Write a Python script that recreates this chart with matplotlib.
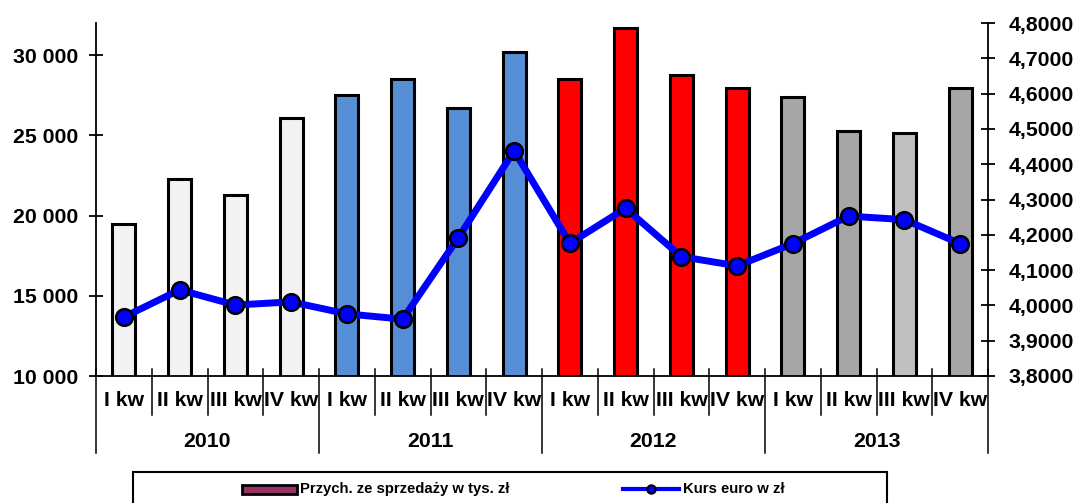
import numpy as np
import matplotlib
matplotlib.use('Agg')
import matplotlib.pyplot as plt
from matplotlib.patches import Rectangle
from matplotlib.lines import Line2D
from matplotlib.ticker import FuncFormatter

plt.rcParams['font.family'] = ['Liberation Sans', 'DejaVu Sans']
plt.rcParams['font.weight'] = 'bold'

years = ['2010', '2011', '2012', '2013']
quarters = ['I kw', 'II kw', 'III kw', 'IV kw']
sales = [19500, 22300, 21300, 26100,
         27500, 28500, 26700, 30200,
         28500, 31700, 28750, 27950,
         27400, 25250, 25150, 27950]
euro = [3.967, 4.044, 4.001, 4.010,
        3.976, 3.961, 4.192, 4.438,
        4.176, 4.275, 4.138, 4.112,
        4.175, 4.253, 4.243, 4.175]
bar_colors = ['#f2f2f2'] * 4 + ['#558ed5'] * 4 + ['#ff0000'] * 4 + \
             ['#a6a6a6', '#a6a6a6', '#c0c0c0', '#a6a6a6']

W, H = 1074, 503
fig = plt.figure(figsize=(W / 100, H / 100), dpi=100)
ax = fig.add_axes([96 / W, 1 - 376 / H, (988 - 96) / W, (376 - 23) / H])

x = np.arange(len(sales))
ax.bar(x, sales, width=0.41, color=bar_colors, edgecolor='black', linewidth=2.2, zorder=2)
ax.set_xlim(-0.5, len(sales) - 0.5)
ax.set_ylim(10000, 32000)
ax.set_yticks(range(10000, 30001, 5000))
ax.yaxis.set_major_formatter(FuncFormatter(lambda v, p: '{:,.0f}'.format(v).replace(',', ' ')))
ax.tick_params(axis='y', direction='inout', length=10, width=1.3, pad=8, labelsize=15.3)
ax.set_xticks([])
for s in ['top', 'right']:
    ax.spines[s].set_visible(False)
ax.spines['left'].set_linewidth(1.3)
ax.spines['bottom'].set_linewidth(1.3)

# category separators and labels below the axis
tr = ax.get_xaxis_transform()
for i in range(len(sales) + 1):
    bottom = -0.218 if i % 4 == 0 else -0.1105
    ax.plot([i - 0.5, i - 0.5], [0.02, bottom], color='black', lw=1.1,
            transform=tr, clip_on=False)
for i in x:
    ax.text(i, -0.07, quarters[i % 4], transform=tr, ha='center', va='center',
            fontsize=15.3, fontweight='bold')
for k, yr in enumerate(years):
    ax.text(4 * k + 1.5, -0.185, yr, transform=tr, ha='center', va='center',
            fontsize=15.3, fontweight='bold')

ax2 = ax.twinx()
ax2.plot(x, euro, color='#0000ff', lw=5, marker='o', markersize=12,
         markerfacecolor='#0000ff', markeredgecolor='black', markeredgewidth=1.8, zorder=3)
ax2.set_ylim(3.8, 4.8)
ax2.set_yticks(np.arange(3.8, 4.801, 0.1))
ax2.yaxis.set_major_formatter(FuncFormatter(lambda v, p: '{:.4f}'.format(v).replace('.', ',')))
ax2.tick_params(axis='y', direction='inout', length=10, width=1.3, pad=10, labelsize=15.3)
for s in ['top', 'left', 'bottom']:
    ax2.spines[s].set_visible(False)
ax2.spines['right'].set_linewidth(1.3)


def px(px_x, px_y):
    return px_x / W, 1 - px_y / H


# legend drawn by hand, box runs off the bottom edge like the original
fig.add_artist(Rectangle(px(133, 520), (887 - 133) / W, (520 - 472) / H,
                         transform=fig.transFigure, facecolor='white',
                         edgecolor='black', lw=1.5))
fig.add_artist(Rectangle(px(242, 494), (297 - 242) / W, 9 / H,
                         transform=fig.transFigure, facecolor='#993366',
                         edgecolor='black', lw=2))
lx0, ly = px(623, 489)
lx1, _ = px(679, 489)
fig.add_artist(Line2D([lx0, lx1], [ly, ly], transform=fig.transFigure, color='#0000ff', lw=3))
fig.add_artist(Line2D([(lx0 + lx1) / 2], [ly], transform=fig.transFigure, marker='o',
                      markersize=6, markerfacecolor='#0000ff', markeredgecolor='black',
                      markeredgewidth=1.5))
fig.text(*px(300, 489), 'Przych. ze sprzedaży w tys. zł', ha='left', va='center',
         fontsize=10.7, fontweight='bold')
fig.text(*px(683, 489), 'Kurs euro w zł', ha='left', va='center',
         fontsize=10.7, fontweight='bold')

fig.savefig('out.png', dpi=100)
